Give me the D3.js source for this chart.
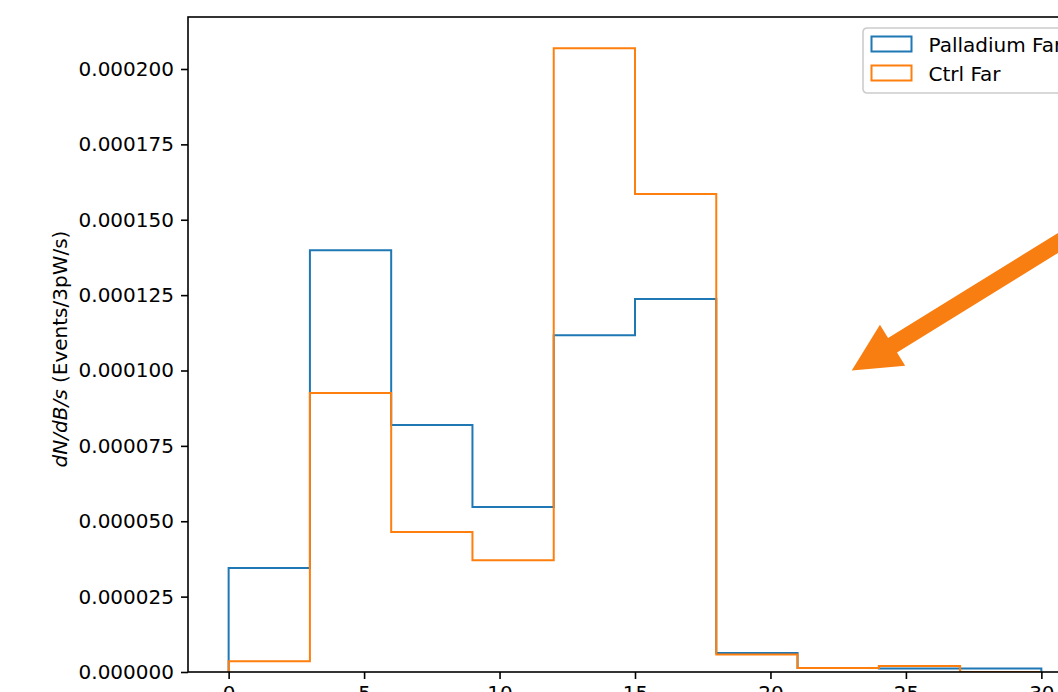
<!DOCTYPE html>
<html>
<head>
<meta charset="utf-8">
<script src="https://cdn.jsdelivr.net/npm/d3@7"></script>
<style>
  body { margin: 0; background: #fff; }
  svg { display: block; font-family: "DejaVu Sans", sans-serif; }
</style>
</head>
<body>
<div id="chart"></div>
<script>
// bin edges (width 3) and histogram heights
var binEdges = [0, 3, 6, 9, 12, 15, 18, 21, 24, 27, 30];
var palladiumFar = [0.0000345, 0.0001399, 0.0000819, 0.0000547, 0.0001117,
                    0.0001237, 0.0000063, 0.0000013, 0.0000012, 0.0000012];
var ctrlFar = [0.0000036, 0.0000925, 0.0000464, 0.0000371, 0.0002069,
               0.0001585, 0.0000058, 0.0000013, 0.0000020, 0];
var seriesNames = ["Palladium Far", "Ctrl Far"];
var seriesColors = ["#1f77b4", "#ff7f0e"];
var xTicks = [0, 5, 10, 15, 20, 25, 30];
var yTicks = [0, 0.000025, 0.00005, 0.000075, 0.0001, 0.000125, 0.00015, 0.000175, 0.0002];
// annotation arrow, data coordinates (tail is off the page)
var arrowTail = [32, 0.00015];
var arrowTip = [23, 0.0001];

var W = 1058, H = 692;
var margin = {top: 17, left: 188, bottom: 20};
var plotW = 894, plotH = H - margin.top - margin.bottom;
var fontSize = "20px";

var svg = d3.select("#chart")
    .append("svg")
    .attr("width", W)
    .attr("height", H);

var x = d3.scaleLinear()
    .domain([-1.5, 31.5])
    .range([margin.left, margin.left + plotW]);

var yMax = d3.max(palladiumFar.concat(ctrlFar)) * 1.05;
var y = d3.scaleLinear()
    .domain([0, yMax])
    .range([H - margin.bottom, margin.top]);

svg.append("defs").append("clipPath").attr("id", "plotclip")
    .append("rect")
    .attr("x", x.range()[0])
    .attr("y", y.range()[1])
    .attr("width", plotW)
    .attr("height", plotH);

function stepPath(vals) {
    var p = "M" + x(binEdges[0]) + "," + y(0);
    vals.forEach(function (v, i) {
        p += "V" + y(v) + "H" + x(binEdges[i + 1]);
    });
    return p + "V" + y(0);
}

var plot = svg.append("g").attr("clip-path", "url(#plotclip)");

[palladiumFar, ctrlFar].forEach(function (vals, i) {
    plot.append("path")
        .attr("d", stepPath(vals))
        .attr("fill", "none")
        .attr("stroke", seriesColors[i])
        .attr("stroke-width", 2)
        .attr("stroke-linejoin", "miter");
});

// axes
var xAxis = svg.append("g")
    .attr("transform", "translate(0," + y(0) + ")")
    .call(d3.axisBottom(x).tickValues(xTicks).tickSize(7).tickPadding(7)
        .tickFormat(d3.format("d")));
var yAxis = svg.append("g")
    .attr("transform", "translate(" + x.range()[0] + ",0)")
    .call(d3.axisLeft(y).tickValues(yTicks).tickSize(7).tickPadding(7)
        .tickFormat(d3.format(".6f")));

[xAxis, yAxis].forEach(function (a) {
    a.select(".domain").remove();
    a.selectAll(".tick line").attr("stroke", "#000").attr("stroke-width", 1.6);
    a.selectAll(".tick text")
        .attr("fill", "#000")
        .style("font-size", fontSize)
        .style("font-family", "DejaVu Sans");
});

// spines
svg.append("rect")
    .attr("x", x.range()[0])
    .attr("y", y.range()[1])
    .attr("width", plotW)
    .attr("height", plotH)
    .attr("fill", "none")
    .attr("stroke", "#000")
    .attr("stroke-width", 1.6);

// y label with italic math part
var ylab = svg.append("text")
    .attr("transform", "translate(67," + 349 + ") rotate(-90)")
    .attr("text-anchor", "middle")
    .style("font-size", fontSize);
ylab.append("tspan").style("font-style", "italic").text("dN/dB/s");
ylab.append("tspan").text(" (Events/3pW/s)");

// legend
var leg = svg.append("g").attr("transform", "translate(863,28)");
leg.append("rect")
    .attr("width", 260)
    .attr("height", 65)
    .attr("rx", 4)
    .attr("fill", "#fff")
    .attr("fill-opacity", 0.8)
    .attr("stroke", "#cccccc")
    .attr("stroke-width", 1.6);
seriesNames.forEach(function (name, i) {
    var g = leg.append("g").attr("transform", "translate(0," + (i * 29) + ")");
    g.append("rect")
        .attr("x", 8.5)
        .attr("y", 8.5)
        .attr("width", 40)
        .attr("height", 15)
        .attr("fill", "none")
        .attr("stroke", seriesColors[i])
        .attr("stroke-width", 2);
    g.append("text")
        .attr("x", 65.5)
        .attr("y", 23.5)
        .style("font-size", fontSize)
        .text(name);
});

// arrow annotation
var tx = x(arrowTip[0]), ty = y(arrowTip[1]);
var sx = x(arrowTail[0]), sy = y(arrowTail[1]);
var ang = Math.atan2(ty - sy, tx - sx);
var headLen = 48, headW = 48, shaftW = 17;
var ux = Math.cos(ang), uy = Math.sin(ang);
var nx = -uy, ny = ux;
var bx = tx - ux * headLen, by = ty - uy * headLen;
var pts = [
    [sx + nx * shaftW / 2, sy + ny * shaftW / 2],
    [bx + nx * shaftW / 2, by + ny * shaftW / 2],
    [bx + nx * headW / 2, by + ny * headW / 2],
    [tx, ty],
    [bx - nx * headW / 2, by - ny * headW / 2],
    [bx - nx * shaftW / 2, by - ny * shaftW / 2],
    [sx - nx * shaftW / 2, sy - ny * shaftW / 2]
];
svg.append("polygon")
    .attr("points", pts.map(function (p) { return p.join(","); }).join(" "))
    .attr("fill", "#f97e11");
</script>
</body>
</html>
